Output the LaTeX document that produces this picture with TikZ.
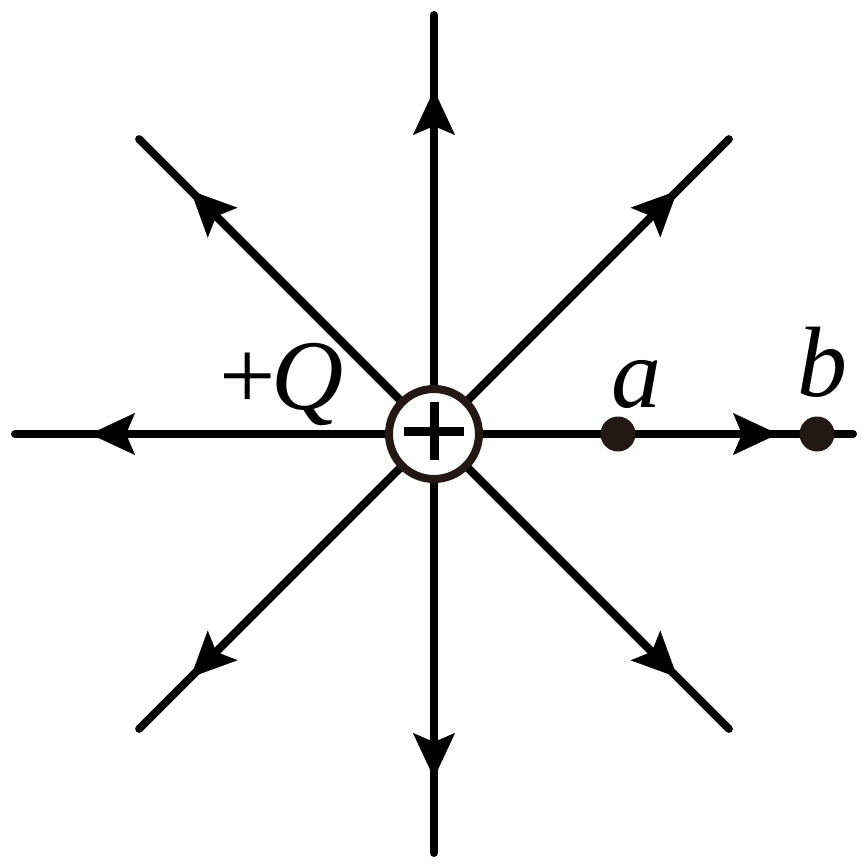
\documentclass[tikz,border=0pt]{standalone}
\usepackage{fontspec}
\setmainfont{Liberation Serif}
\newfontfamily\tms{Liberation Serif}
\usetikzlibrary{arrows.meta,calc}
\definecolor{ink}{HTML}{231815}
\begin{document}
\begin{tikzpicture}[x=1pt,y=-1pt,
 fieldline/.style={line width=8pt, line cap=round},
 tipped/.style={line width=8pt, -{Stealth[length=45pt,width=42pt,inset=9pt,line width=0.5pt]}},
 lbl/.style={inner sep=0pt, anchor=base, font=\tms\fontsize{100}{120}\selectfont},
 charge/.style={circle, draw=ink, line width=8pt, fill=white, minimum size=90pt, inner sep=0pt},
 dotpt/.style={circle, fill=ink, minimum size=35pt, inner sep=0pt}]
\useasboundingbox (0,0) rectangle (867,868);
\coordinate (O) at (434,434);
\foreach \ang/\nm/\len in {0/E/419,45/SE/417,90/S/419,135/SW/417,180/W/419,225/NW/417,270/N/419,315/NE/417}{
  \coordinate (t\nm) at ($(O)+(\ang:344)$);
  \coordinate (e\nm) at ($(O)+(\ang:\len)$);
  \draw[fieldline] (O) -- (e\nm);
  \draw[tipped] (O) -- (t\nm);
}
\node[charge] (C) at (O) {};
\draw[line width=9pt] ($(C.center)+(-30,-3)$) -- ($(C.center)+(30,-3)$);
\draw[line width=9pt] ($(C.center)+(0,-32)$) -- ($(C.center)+(0,26)$);
\node[dotpt] (a) at (618,434) {};
\node[dotpt] (b) at (817,434) {};
\node[lbl] (la) at (636,407) {\itshape a};
\node[lbl] (lb) at (822,396) {\itshape b};
\node[lbl, anchor=base west] (lq) at (219,409) {+\kern-4pt{\itshape Q}};
\end{tikzpicture}
\end{document}
